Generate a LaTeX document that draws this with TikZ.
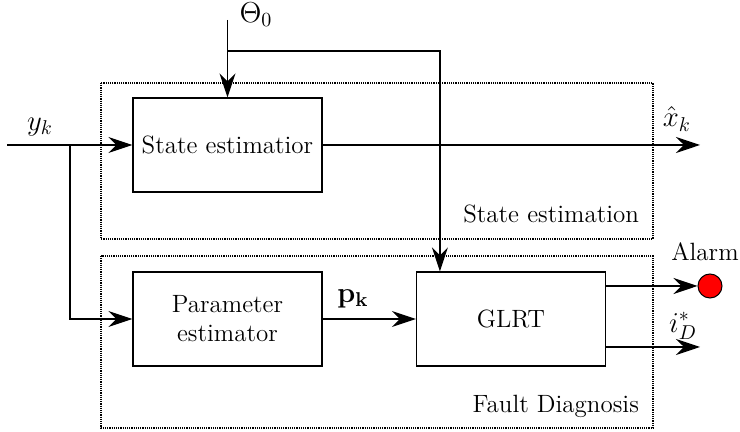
\documentclass[tikz,border=0pt]{standalone}
\usepackage{amsmath,amssymb}
\usepackage{xcolor}
\usetikzlibrary{arrows.meta, positioning, calc}
\definecolor{alarmred}{HTML}{FF0000}
\tikzset{
  blockbox/.style={draw, line width=0.6pt, minimum width=94.5pt, minimum height=47pt, align=center, inner sep=0pt},
  groupbox/.style={draw, line width=0.55pt, dash pattern=on 0.6pt off 0.5pt},
  arr/.style={-{Stealth[length=12pt, width=8pt, inset=4pt]}, line width=0.6pt},
  mathlabel/.style={font=\fontsize{14}{16}\selectfont},
  every node/.style={font=\fontsize{12.5}{14.5}\selectfont}
}
\begin{document}
\begin{tikzpicture}[x=0.5pt, y=-0.5pt]
        \useasboundingbox (0,0) rectangle (740,432);
        % Groups
        \draw[groupbox] (101,83) rectangle (653,239);
        \draw[groupbox] (101,256) rectangle (653,428);
        \node[anchor=base east] (stlabel) at (646,223) {State estimation};
        \node[anchor=base east] (fdlabel) at (646,413) {Fault Diagnosis};
        % Blocks
        \node[blockbox] (stateest) at (227.5,145) {State estimatior};
        \node[blockbox] (paramest) at (227.5,319) {Parameter\\estimator};
        \node[blockbox] (glrt) at (511,319) {GLRT};
        \node[circle, draw, fill=alarmred, line width=0.5pt, minimum size=12pt, inner sep=0pt] (alarm) at (710,286) {};
        % Free ends
        \coordinate (yin) at (7,145);
        \coordinate (ysplit) at (70,145);
        \coordinate (thin) at (227.5,20);
        \coordinate (thsplit) at (227.5,51);
        \coordinate (xout) at (700,145);
        \coordinate (iout) at (700,347);
        % Connectors
        \draw[arr] (yin) -- (stateest.west);
        \draw[arr] (ysplit) |- (paramest.west);
        \draw[arr] (thin) -- (stateest.north);
        \draw[arr] (thsplit) -| ([xshift=12pt]glrt.north west);
        \draw[arr] (stateest.east) -- (xout);
        \draw[arr] (paramest.east) -- (glrt.west);
        \draw[arr] (glrt.east |- alarm.west) -- (alarm.west);
        \draw[arr] (glrt.east |- iout) -- (iout);
        % Labels
        \node[mathlabel] (ylabel) at (40,127) {$y_k$};
        \node[mathlabel] (thlabel) at (256,15) {$\Theta_0$};
        \node[mathlabel] (xlabel) at (677,119) {$\hat{x}_k$};
        \node[mathlabel] (plabel) at (353,299) {$\mathbf{p}_{\mathbf{k}}$};
        \node (alabel) at (705,252) {Alarm};
        \node[mathlabel] (ilabel) at (683,326) {$i_D^*$};
    \end{tikzpicture}
\end{document}
